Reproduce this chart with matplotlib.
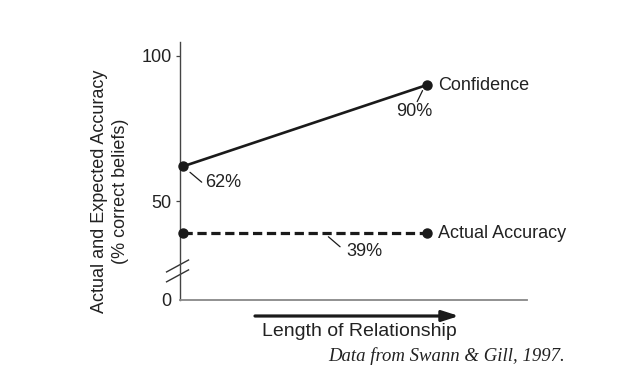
import matplotlib.pyplot as plt
from matplotlib.lines import Line2D
from matplotlib.patches import FancyArrowPatch

plt.rcParams["font.family"] = ["Liberation Sans", "DejaVu Sans"]

# data
stages = [0, 1]
confidence = [62, 90]
accuracy = [39, 39]
tick_values = [50, 100]
tick_labels = ["50", "100"]

y_bottom = 16.1  # where "0" sits after the axis break
y_top = 104.8

fig = plt.figure(figsize=(6.2, 3.83), dpi=100)
ax = fig.add_axes([180 / 620, 1 - 300 / 383, 347 / 620, 258 / 383])

ink = "#1a1a1a"
txt = "#222222"
ax.plot(stages, confidence, color=ink, lw=1.9, marker="o", ms=6.5, clip_on=False, zorder=3)
ax.plot(stages, accuracy, color=ink, lw=2.3, ls=(0, (2.9, 1.45)), marker="o", ms=6.5,
        clip_on=False, zorder=3)

ax.set_xlim(-0.011, 1.411)
ax.set_ylim(y_bottom, y_top)

ax.set_yticks([y_bottom] + tick_values)
ax.set_yticklabels(["0"] + tick_labels)
ax.tick_params(axis="y", length=3, width=0.9, color="#444", labelsize=13, pad=3,
               labelcolor=txt)
ax.yaxis.get_major_ticks()[0].tick1line.set_visible(False)
ax.set_xticks([])
for side in ("top", "right"):
    ax.spines[side].set_visible(False)
ax.spines["left"].set_color("#444")
ax.spines["bottom"].set_color("#888")
ax.spines["left"].set_linewidth(1.0)
ax.spines["bottom"].set_linewidth(1.3)

ax.set_ylabel("Actual and Expected Accuracy\n(% correct beliefs)", fontsize=13,
              linespacing=1.3, color=txt)
ax.yaxis.set_label_coords(-0.146, 0.422)

# series labels
ax.text(stages[1] + 0.045, confidence[1], "Confidence", fontsize=13, va="center",
        ha="left", color=txt)
ax.text(stages[1] + 0.045, accuracy[1], "Actual Accuracy", fontsize=13, va="center",
        ha="left", color=txt)

# value callouts with leader lines
leader = dict(arrowstyle="-", color=ink, lw=0.9, shrinkA=0, shrinkB=0)
ax.annotate("", xy=(0.03, confidence[0] - 2.0), xytext=(0.078, confidence[0] - 5.4),
            arrowprops=leader)
ax.text(0.09, confidence[0] - 5.4, f"{confidence[0]}%", fontsize=13, va="center",
        ha="left", color=txt)
ax.annotate("", xy=(0.983, confidence[1] - 1.9), xytext=(0.961, confidence[1] - 5.7),
            arrowprops=leader)
ax.text(0.95, confidence[1] - 9.1, f"{confidence[1]}%", fontsize=13, va="center",
        ha="center", color=txt)
ax.annotate("", xy=(0.597, accuracy[0] - 1.15), xytext=(0.645, accuracy[0] - 4.6),
            arrowprops=leader)
ax.text(0.745, accuracy[0] - 6.1, f"{accuracy[0]}%", fontsize=13, va="center",
        ha="center", color=txt)

# axis break marks
for yb in (27.8, 24.4):
    ax.add_line(Line2D([-0.066, 0.024], [yb - 2.05, yb + 2.05], color="#333", lw=1.0,
                       clip_on=False))

# x-axis arrow and label
fig.add_artist(FancyArrowPatch(
    (255 / 620, 1 - 316 / 383), (459 / 620, 1 - 316 / 383), transform=fig.transFigure,
    arrowstyle="-|>,head_length=10,head_width=3.2", mutation_scale=1, lw=2.3,
    color=ink, shrinkA=0, shrinkB=0))
fig.text(359 / 620, 1 - 332 / 383, "Length of Relationship", fontsize=14,
         ha="center", va="center", color=txt)
fig.text(565 / 620, 1 - 356 / 383, "Data from Swann & Gill, 1997.", fontsize=13.5,
         family="Liberation Serif", style="italic", ha="right", va="center", color=txt)

fig.savefig("out.png", dpi=100)
